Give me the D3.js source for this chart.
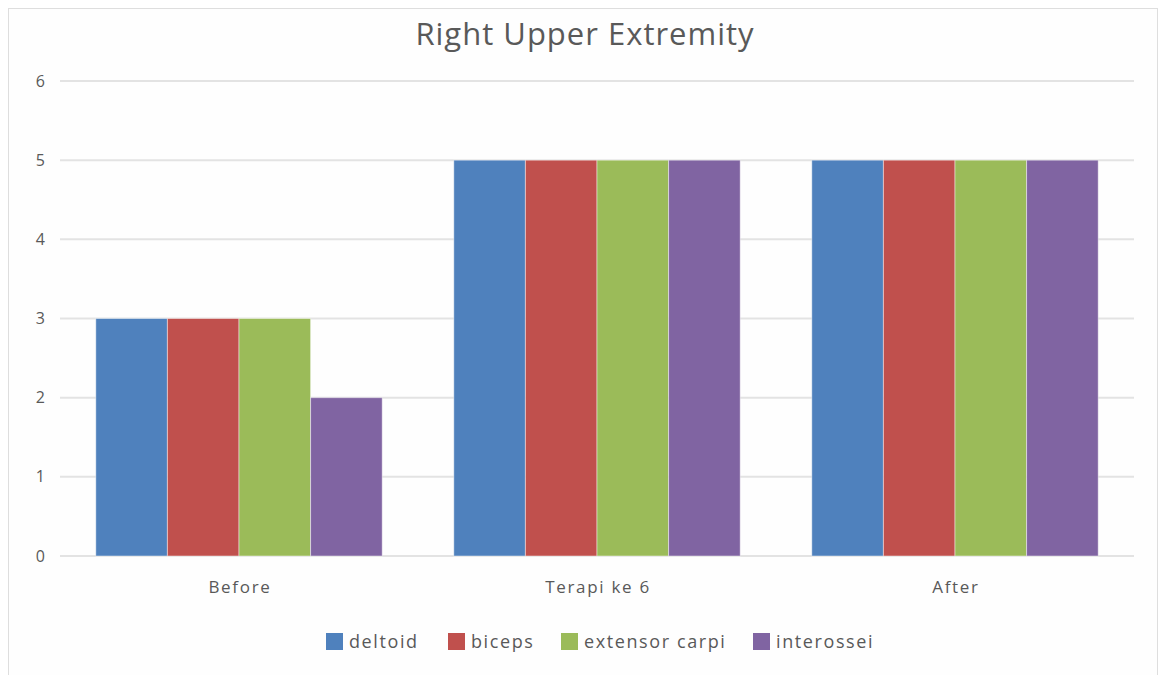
<!DOCTYPE html>
<html>
<head>
<meta charset="utf-8">
<script src="https://cdn.jsdelivr.net/npm/d3@7"></script>
<style>
  html, body { margin: 0; padding: 0; background: #ffffff; }
  svg { display: block; }
</style>
</head>
<body>
<svg id="chart" width="1159" height="675"></svg>
<script>
// Muscle strength scores, right upper extremity
const categories = ["Before", "Terapi ke 6", "After"];
const seriesNames = ["deltoid", "biceps", "extensor carpi", "interossei"];
const deltoid = [3, 5, 5];
const biceps = [3, 5, 5];
const extensorCarpi = [3, 5, 5];
const interossei = [2, 5, 5];
const yTicks = [0, 1, 2, 3, 4, 5, 6];
const colors = ["#4f81bd", "#c0504d", "#9bbb59", "#8064a2"];

const seriesValues = [deltoid, biceps, extensorCarpi, interossei];
const rows = categories.map((c, i) => ({
  category: c,
  values: seriesNames.map((s, j) => ({ key: s, value: seriesValues[j][i], color: colors[j] }))
}));

const svg = d3.select("#chart");
const font = "'Open Sans', sans-serif";

// chart area frame
svg.append("rect")
  .attr("x", 8.5).attr("y", 8.5)
  .attr("width", 1149).attr("height", 700)
  .attr("fill", "#fefefe")
  .attr("stroke", "#dedede").attr("stroke-width", 1);

const plot = { left: 60, right: 1134, top: 81, bottom: 556 };

const x0 = d3.scaleBand().domain(categories).range([plot.left, plot.right]).padding(0);
const x1 = d3.scaleBand().domain(seriesNames)
  .range([x0.bandwidth() * 0.1, x0.bandwidth() * 0.9]).padding(0);
const y = d3.scaleLinear().domain([0, 6]).range([plot.bottom, plot.top]);

// horizontal gridlines
svg.append("g")
  .selectAll("line")
  .data(yTicks)
  .join("line")
  .attr("x1", plot.left).attr("x2", plot.right)
  .attr("y1", d => y(d)).attr("y2", d => y(d))
  .attr("stroke", "#e3e3e3").attr("stroke-width", 2);

// y axis labels
const yAxis = d3.axisLeft(y).tickValues(yTicks).tickSize(0).tickPadding(0).tickFormat(d3.format("d"));
const gy = svg.append("g").attr("transform", `translate(45,0)`).call(yAxis);
gy.select(".domain").remove();
gy.selectAll("text")
  .attr("font-family", font).attr("font-size", 16).attr("fill", "#595959");

// bars
const groups = svg.append("g")
  .selectAll("g")
  .data(rows)
  .join("g")
  .attr("transform", d => `translate(${x0(d.category)},0)`);

groups.selectAll("rect")
  .data(d => d.values)
  .join("rect")
  .attr("x", d => x1(d.key))
  .attr("width", x1.bandwidth())
  .attr("y", d => y(d.value))
  .attr("height", d => y(0) - y(d.value))
  .attr("fill", d => d.color)
  .attr("stroke", "rgba(255,255,255,0.45)")
  .attr("stroke-width", 1);

// category axis labels
const xAxis = d3.axisBottom(x0).tickSize(0).tickPadding(0);
const gx = svg.append("g").attr("transform", `translate(1,${plot.bottom + 25})`).call(xAxis);
gx.select(".domain").remove();
gx.selectAll("text")
  .attr("font-family", font).attr("font-size", 17).attr("fill", "#595959")
  .attr("letter-spacing", 1.7)
  .attr("dy", "0.71em");

// title
svg.append("text")
  .attr("x", 585).attr("y", 45)
  .attr("text-anchor", "middle")
  .attr("font-family", font).attr("font-size", 31)
  .attr("letter-spacing", 1)
  .attr("fill", "#595959")
  .text("Right Upper Extremity");

// legend
const legendX = [326, 448, 561, 753];
const legend = svg.append("g")
  .selectAll("g")
  .data(seriesNames)
  .join("g")
  .attr("transform", (d, i) => `translate(${legendX[i]},633)`);
legend.append("rect")
  .attr("width", 17).attr("height", 17)
  .attr("fill", (d, i) => colors[i]);
legend.append("text")
  .attr("x", 23).attr("y", 15)
  .attr("font-family", font).attr("font-size", 18)
  .attr("letter-spacing", 1.6)
  .attr("fill", "#595959")
  .text(d => d);
</script>
</body>
</html>
